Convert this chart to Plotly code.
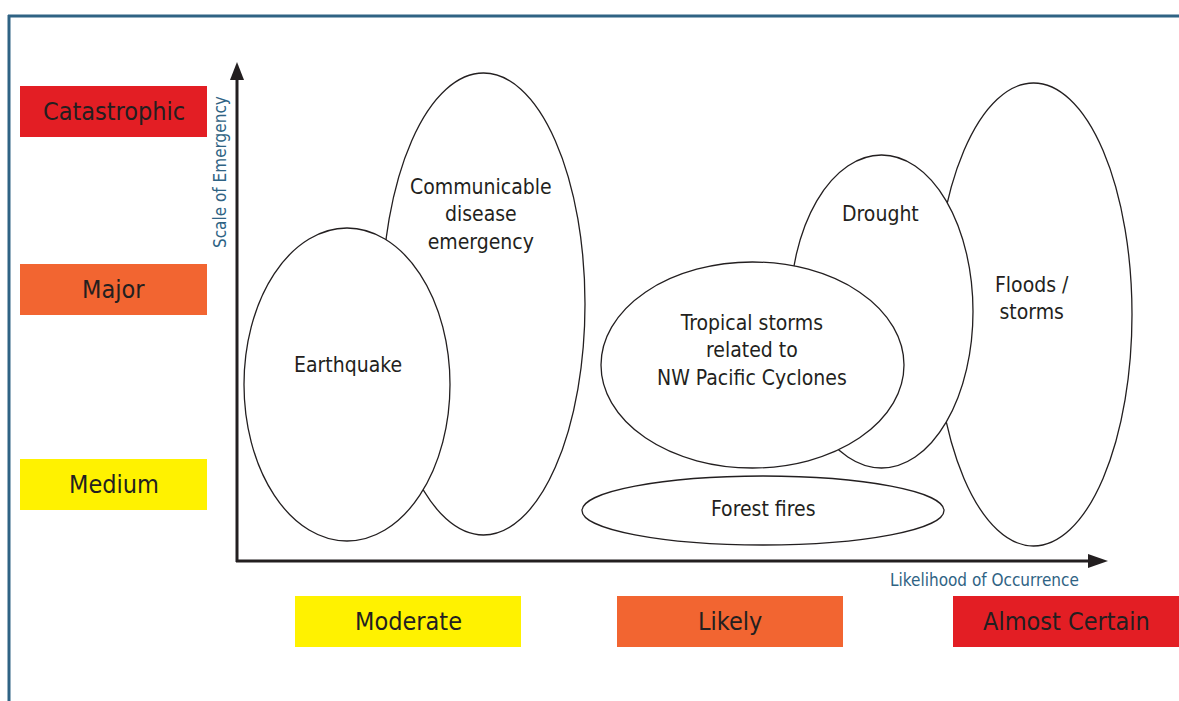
import plotly.graph_objects as go

W, H = 1179, 701
FONT = "Liberation Sans Narrow, DejaVu Sans Condensed, Arial Narrow, sans-serif"
TXT = "#231f20"
BLUE = "#2f6384"

# Hazards (drawing order: back to front)
hazards = ["Communicable<br>disease<br>emergency", "Earthquake", "Floods /<br>storms",
           "Drought", "Tropical storms<br>related to<br>NW Pacific Cyclones", "Forest fires"]
hz_x0 = [382, 244, 935, 790, 601, 582]
hz_x1 = [585, 450, 1132, 973, 904, 944]
hz_y0 = [73, 228, 83, 155, 262, 476]
hz_y1 = [535, 541, 546, 468, 468, 545]
lab_x = [481, 348, 1032, 880, 752, 763]
lab_y = [214, 365, 298, 214, 350, 509]

# Scale of emergency (y categories)
scale_labels = ["Catastrophic", "Major", "Medium"]
scale_colors = ["#e31e24", "#f26531", "#fff200"]
scale_y0 = [86, 264, 459]
scale_y1 = [137, 315, 510]

# Likelihood (x categories)
like_labels = ["Moderate", "Likely", "Almost Certain"]
like_colors = ["#fff200", "#f26531", "#e31e24"]
like_x0 = [295, 617, 953]
like_x1 = [521, 843, 1179]

fig = go.Figure()
shapes = []
annos = []

# page border
shapes.append(dict(type="line", x0=8, x1=W, y0=16, y1=16, line=dict(color=BLUE, width=3)))
shapes.append(dict(type="line", x0=9, x1=9, y0=15, y1=H, line=dict(color=BLUE, width=3)))

for lab, c, y0, y1 in zip(scale_labels, scale_colors, scale_y0, scale_y1):
    shapes.append(dict(type="rect", x0=20, x1=207, y0=y0, y1=y1, fillcolor=c, line=dict(width=0)))
    annos.append(dict(x=113.5, y=(y0 + y1) / 2, text=lab, showarrow=False,
                      font=dict(family=FONT, size=25, color=TXT)))

for lab, c, x0, x1 in zip(like_labels, like_colors, like_x0, like_x1):
    shapes.append(dict(type="rect", x0=x0, x1=x1, y0=596, y1=647, fillcolor=c, line=dict(width=0)))
    annos.append(dict(x=(x0 + x1) / 2, y=621, text=lab, showarrow=False,
                      font=dict(family=FONT, size=25, color=TXT)))

for lab, x0, x1, y0, y1, lx, ly in zip(hazards, hz_x0, hz_x1, hz_y0, hz_y1, lab_x, lab_y):
    shapes.append(dict(type="circle", x0=x0, x1=x1, y0=y0, y1=y1, fillcolor="white",
                       line=dict(color="#231f20", width=1.3), layer="above"))
    annos.append(dict(x=lx, y=ly, text=lab, showarrow=False,
                      font=dict(family=FONT, size=21, color=TXT)))

# axes with arrows
shapes.append(dict(type="line", x0=237, x1=237, y0=562, y1=76, line=dict(color="#231f20", width=3)))
shapes.append(dict(type="line", x0=236, x1=1092, y0=561, y1=561, line=dict(color="#231f20", width=3)))
shapes.append(dict(type="path", path="M 230 80 L 244 80 L 237 62 Z", fillcolor="#231f20",
                   line=dict(width=0)))
shapes.append(dict(type="path", path="M 1088 554 L 1108 561 L 1088 568 Z", fillcolor="#231f20",
                   line=dict(width=0)))

annos.append(dict(x=984, y=580, text="Likelihood of Occurrence", showarrow=False,
                  font=dict(family=FONT, size=17, color=BLUE)))
annos.append(dict(x=220, y=172, text="Scale of Emergency", showarrow=False, textangle=-90,
                  font=dict(family=FONT, size=17, color=BLUE)))

fig.update_layout(
    width=W, height=H, margin=dict(l=0, r=0, t=0, b=0),
    paper_bgcolor="white", plot_bgcolor="white",
    xaxis=dict(range=[0, W], visible=False, fixedrange=True),
    yaxis=dict(range=[H, 0], visible=False, fixedrange=True),
    shapes=shapes, annotations=annos, showlegend=False,
)
fig.write_html("out.html", config={"displayModeBar": False},
               post_script="document.body.style.margin='0px';document.body.style.overflow='hidden';")
